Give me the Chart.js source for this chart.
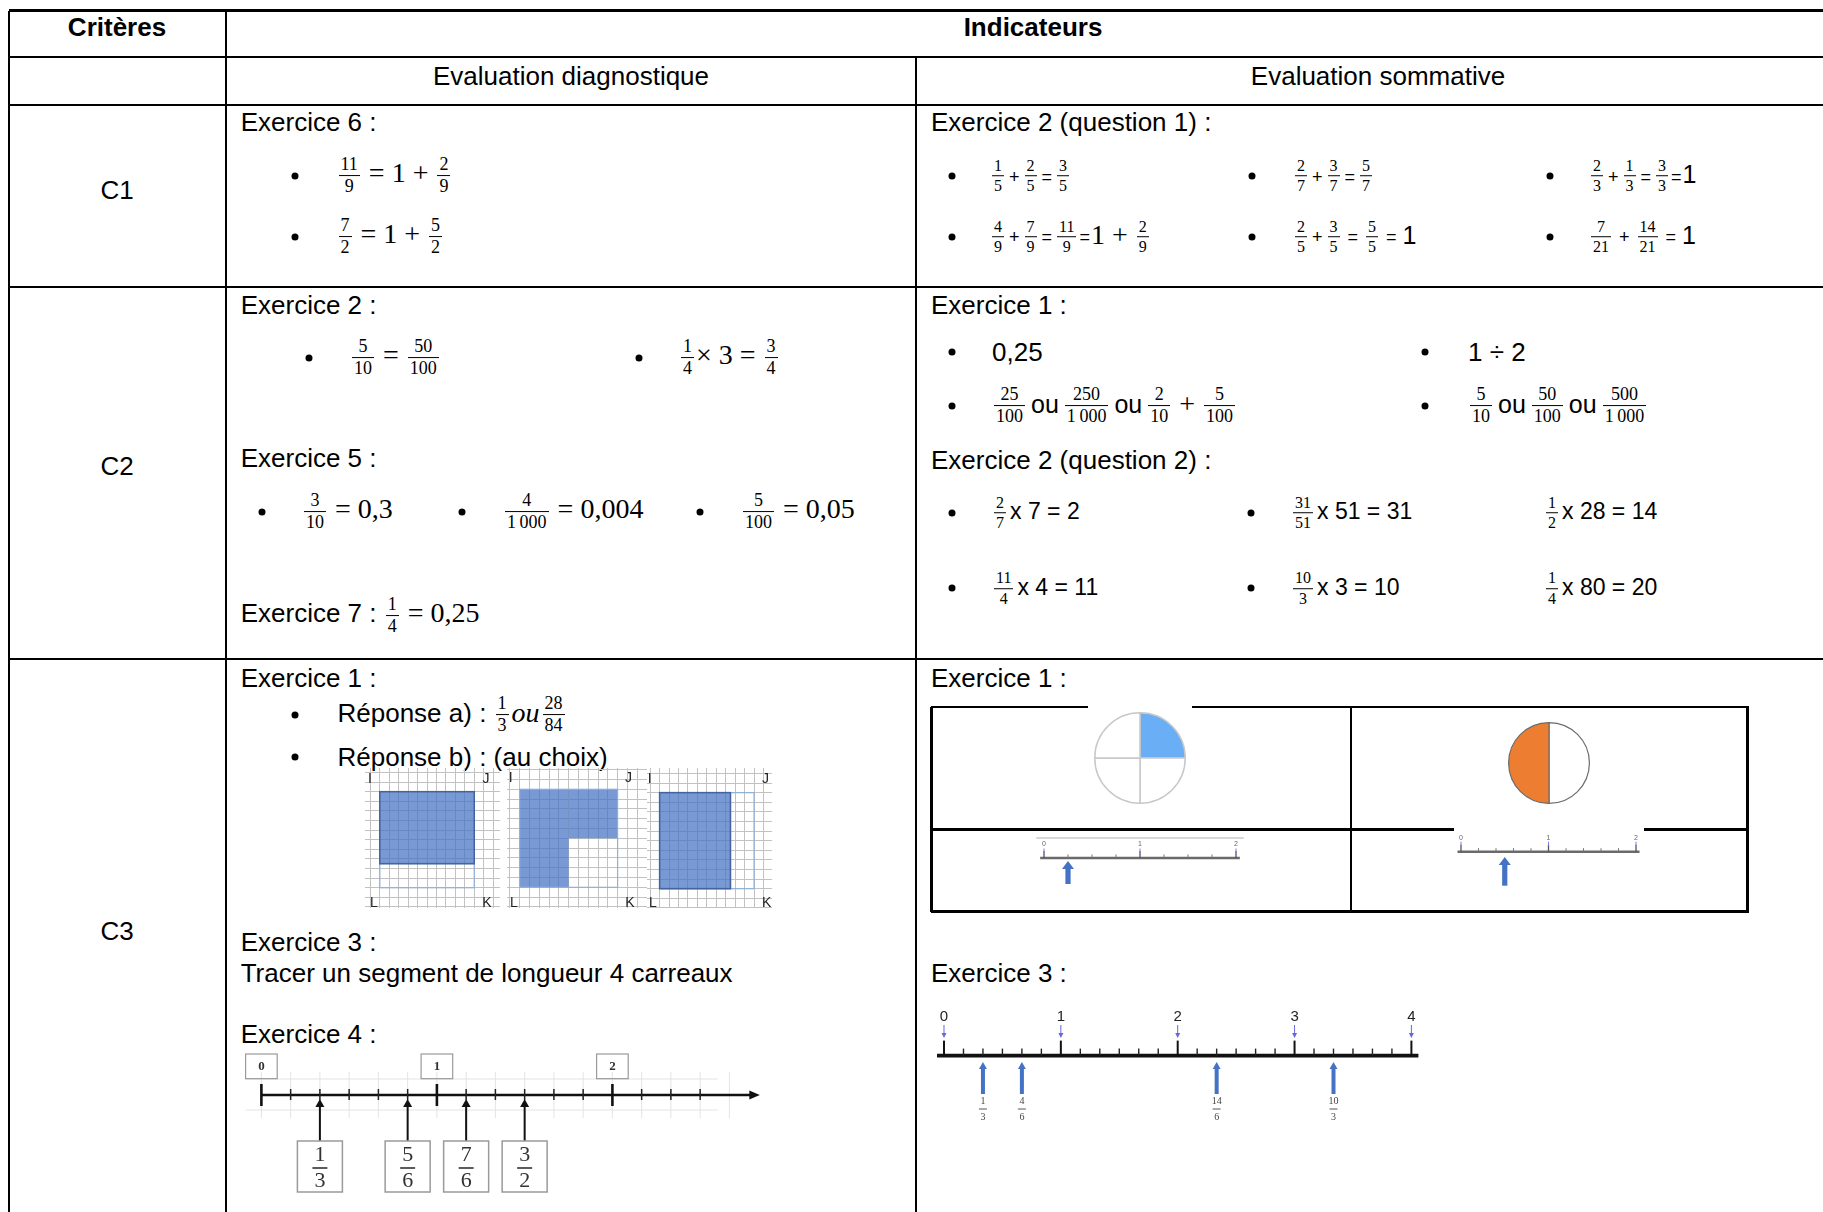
<!DOCTYPE html>
<html lang="fr">
<head>
<meta charset="utf-8">
<title>Critères / Indicateurs</title>
<script src="https://cdn.jsdelivr.net/npm/chart.js@4.4.1/dist/chart.umd.min.js"></script>
<style>
html,body{margin:0;padding:0;width:1823px;height:1212px;overflow:hidden;background:#fff;}
#page{position:relative;width:1823px;height:1212px;overflow:hidden;font-family:"Liberation Sans",Arial,sans-serif;color:#000;}
.ln{position:absolute;background:#000;}
.t{position:absolute;white-space:nowrap;font-size:26px;line-height:30px;transform:translateY(-50%);}
.tc{transform:translate(-50%,-50%);}
.b{font-weight:bold;}
.dot{position:absolute;width:7px;height:7px;border-radius:50%;background:#000;transform:translate(-50%,-50%);}
.m{font-family:"Liberation Serif","DejaVu Serif",serif;font-size:28px;}
.fr{display:inline-flex;flex-direction:column;align-items:center;vertical-align:middle;font-family:"Liberation Serif","DejaVu Serif",serif;line-height:1.08;margin:0 2px;font-style:normal;}
.fr>.n{border-bottom:1.2px solid #000;padding:0 2px 1px;align-self:stretch;text-align:center;}
.fr>.d{padding:1px 2px 0;}
.op{font-size:18px;margin:0 3px;}
.opw{font-size:18px;margin:0 6px;}
.big{font-size:25px;}
.s26{font-size:26px;}
.ou{font-size:25px;margin:0 4px;}
.x23{font-size:23px;margin-left:2px;}
.lab{position:absolute;font-size:14px;line-height:14px;color:#222;transform:translate(-50%,-50%);}
.chart{position:absolute;}
.chart canvas{display:block;}
</style>
</head>
<body>
<div id="page"></div>
<script>
// ---------------- data ----------------
// Exercice 1 (évaluation sommative) : disques
const pieQuarterValues = [1, 1, 1, 1];
const pieQuarterColors = ['#6AAEF5', '#FFFFFF', '#FFFFFF', '#FFFFFF'];
const pieHalfValues = [1, 1];
const pieHalfColors = ['#FFFFFF', '#ED7D31'];

// Exercice 1 (évaluation sommative) : petites droites graduées
const smallLineAMajors = [0, 1, 2];
const smallLineADivisions = 4;
const smallLineAArrows = [0.25];
const smallLineBMajors = [0, 1, 2];
const smallLineBDivisions = 5;
const smallLineBArrows = [0.5];

// Exercice 3 (évaluation sommative) : droite graduée 0..4
const ex3Majors = [0, 1, 2, 3, 4];
const ex3MajorLabels = ['0', '1', '2', '3', '4'];
const ex3Divisions = 6;
const ex3ArrowValues = [1/3, 4/6, 14/6, 10/3];
const ex3ArrowNums = ['1', '4', '14', '10'];
const ex3ArrowDens = ['3', '6', '6', '3'];

// Exercice 4 (évaluation diagnostique) : droite graduée
const ex4Majors = [0, 1, 2];
const ex4MajorLabels = ['0', '1', '2'];
const ex4Divisions = 6;
const ex4LastTick = 2.5;
const ex4ArrowValues = [1/3, 5/6, 7/6, 3/2];
const ex4ArrowNums = ['1', '5', '7', '3'];
const ex4ArrowDens = ['3', '6', '6', '2'];

// Exercice 1 (évaluation diagnostique) : quadrillages IJKL (x0, y0, x1, y1 en carreaux)
const gridOutline = [0, 0, 10, 10];
const grid1Shapes = [[0, 2.5, 10, 10]];
const grid2Shapes = [[0, 0, 5, 10], [5, 5, 10, 10]];
const grid3Shapes = [[0, 0, 7.5, 10]];

// ---------------- helpers ----------------
const page = document.getElementById('page');
function el(cls, css, html) {
  const d = document.createElement('div');
  d.className = cls; d.style.cssText = css;
  if (html !== undefined) d.innerHTML = html;
  page.appendChild(d); return d;
}
function T(x, cy, html, cls) { return el('t ' + (cls || ''), `left:${x}px;top:${cy}px;`, html); }
function TC(x, cy, html, cls) { return el('t tc ' + (cls || ''), `left:${x}px;top:${cy}px;`, html); }
function dot(x, cy) { el('dot', `left:${x}px;top:${cy}px;`); }
function hline(x1, x2, y, w) { el('ln', `left:${x1}px;top:${y - w / 2}px;width:${x2 - x1}px;height:${w}px;`); }
function vline(x, y1, y2, w) { el('ln', `left:${x - w / 2}px;top:${y1}px;width:${w}px;height:${y2 - y1}px;`); }
function lab(x, cy, txt) { el('lab', `left:${x}px;top:${cy}px;`, txt); }
const F = (n, d, s) => `<span class="fr" style="font-size:${s || 18}px"><span class="n">${n}</span><span class="d">${d}</span></span>`;
const M = h => `<span class="m">${h}</span>`;
const P = '<span class="op">+</span>', E = '<span class="op">=</span>';
const PW = '<span class="opw">+</span>', EW = '<span class="opw">=</span>';
const OU = '<span class="ou">ou</span>';
const TH = '1&#8239;000';

function holder(x, y, w, h, bg) {
  const d = el('chart', `left:${x}px;top:${y}px;width:${w}px;height:${h}px;${bg ? 'background:' + bg + ';' : ''}`);
  const c = document.createElement('canvas');
  c.width = w; c.height = h; c.style.width = w + 'px'; c.style.height = h + 'px';
  d.appendChild(c); return c;
}
const baseOpts = { responsive: false, animation: false, events: [], plugins: { legend: { display: false }, tooltip: { enabled: false } } };

function seg(ctx, x1, y1, x2, y2, w, c) { ctx.beginPath(); ctx.moveTo(x1, y1); ctx.lineTo(x2, y2); ctx.lineWidth = w; ctx.strokeStyle = c; ctx.stroke(); }
function tri(ctx, a, b, c, col) { ctx.beginPath(); ctx.moveTo(a[0], a[1]); ctx.lineTo(b[0], b[1]); ctx.lineTo(c[0], c[1]); ctx.closePath(); ctx.fillStyle = col; ctx.fill(); }
function minors(majors, div, last) {
  const out = [];
  majors.forEach(m => { for (let k = 1; k < div; k++) { const v = m + k / div; if (v <= last + 1e-9) out.push(v); } });
  return out;
}
function numberLineChart(canvas, xMin, xMax, drawFn) {
  return new Chart(canvas, {
    type: 'scatter',
    data: { datasets: [{ data: [] }] },
    options: Object.assign({}, baseOpts, {
      layout: { padding: 0 },
      scales: { x: { type: 'linear', display: false, min: xMin, max: xMax }, y: { type: 'linear', display: false, min: 0, max: 1 } }
    }),
    plugins: [{ id: 'numberLine', afterDraw(ch) { const ctx = ch.ctx; ctx.save(); drawFn(ctx, v => ch.scales.x.getPixelForValue(v), ch.chartArea.top); ctx.restore(); } }]
  });
}
function gridChart(canvas, xr, yr, shapes, darkEdge) {
  const ax = (mn, mx) => ({ type: 'linear', min: mn, max: mx, ticks: { display: false, stepSize: 1, includeBounds: false }, grid: { color: '#c2c2c2', lineWidth: 1, drawTicks: false }, border: { display: false } });
  return new Chart(canvas, {
    type: 'scatter',
    data: { datasets: [{ data: [] }] },
    options: Object.assign({}, baseOpts, { layout: { padding: 0 }, scales: { x: ax(xr[0], xr[1]), y: ax(yr[0], yr[1]) } }),
    plugins: [{ id: 'rects', afterDatasetsDraw(ch) {
      const X = v => ch.scales.x.getPixelForValue(v), Y = v => ch.scales.y.getPixelForValue(v), ctx = ch.ctx;
      ctx.save();
      shapes.forEach(s => { ctx.fillStyle = 'rgba(68,114,196,0.72)'; ctx.fillRect(X(s[0]), Y(s[3]), X(s[2]) - X(s[0]), Y(s[1]) - Y(s[3])); });
      const o = gridOutline;
      ctx.strokeStyle = '#8fb0dc'; ctx.lineWidth = 1.2;
      ctx.strokeRect(X(o[0]), Y(o[3]), X(o[2]) - X(o[0]), Y(o[1]) - Y(o[3]));
      if (darkEdge) shapes.forEach(s => { ctx.strokeStyle = '#42649f'; ctx.lineWidth = 1.6; ctx.strokeRect(X(s[0]), Y(s[3]), X(s[2]) - X(s[0]), Y(s[1]) - Y(s[3])); });
      ctx.restore();
    } }]
  });
}

// ---------------- table frame ----------------
const xL = 9.3, xC1 = 225.5, xC2 = 916, xR = 1840;
const yT = 10.5, yH1 = 57, yH2 = 104.6, yR1 = 287, yR2 = 659, yB = 1216;
hline(xL, xR, yT, 2.6); hline(xL, xR, yH1, 2); hline(xL, xR, yH2, 2); hline(xL, xR, yR1, 2.2); hline(xL, xR, yR2, 2.2); hline(xL, xR, yB, 2);
vline(xL, yT, yB, 2); vline(xC1, yT, yB, 2); vline(xC2, yH1, yB, 2);

// headers
TC(117, 27, 'Critères', 'b');
TC(1033, 27, 'Indicateurs', 'b');
TC(571, 76, 'Evaluation diagnostique');
TC(1378, 76, 'Evaluation sommative');
TC(117, 190, 'C1'); TC(117, 466, 'C2'); TC(117, 931, 'C3');

// ---------------- C1 ----------------
T(240.7, 122, 'Exercice 6 :');
dot(295, 176); T(336.5, 176, M(`${F(11, 9)} = 1 + ${F(2, 9)}`));
dot(295, 236.5); T(336.5, 236.5, M(`${F(7, 2)} = 1 + ${F(5, 2)}`));

T(931, 122, 'Exercice 2 (question 1) :');
dot(951.5, 176);  T(990, 176, `${F(1, 5, 16)}${P}${F(2, 5, 16)}${E}${F(3, 5, 16)}`);
dot(1252, 176); T(1293, 176, `${F(2, 7, 16)}${P}${F(3, 7, 16)}${E}${F(5, 7, 16)}`);
dot(1550, 176); T(1589, 176, `${F(2, 3, 16)}${P}${F(1, 3, 16)}${E}${F(3, 3, 16)}<span class="op" style="margin:0 1px">=</span><span class="big">1</span>`);
dot(951.5, 236.5);  T(990, 236.5, `${F(4, 9, 16)}${P}${F(7, 9, 16)}${E}${F(11, 9, 16)}<span class="op" style="margin:0 1px">=</span>${M('1 + ')}${F(2, 9, 16)}`);
dot(1252, 236.5); T(1293, 236.5, `${F(2, 5, 16)}${P}${F(3, 5, 16)}${EW}${F(5, 5, 16)}${EW}<span class="big">1</span>`);
dot(1550, 236.5); T(1589, 236.5, `${F(7, 21, 16)}${PW}${F(14, 21, 16)}${EW}<span class="big">1</span>`);

// ---------------- C2 ----------------
T(240.7, 304.6, 'Exercice 2 :');
dot(309, 358); T(350, 358, M(`${F(5, 10)} = ${F(50, 100)}`));
dot(639, 358); T(679, 358, M(`${F(1, 4)}× 3 = ${F(3, 4)}`));
T(240.7, 458, 'Exercice 5 :');
dot(261.5, 511.5); T(302, 511.5, M(`${F(3, 10)} = 0,3`));
dot(462, 511.5);   T(503, 511.5, M(`${F(4, TH)} = 0,004`));
dot(700, 511.5);   T(741, 511.5, M(`${F(5, 100)} = 0,05`));
T(240.7, 616, 'Exercice 7 : ' + M(`${F(1, 4)} = 0,25`));

T(931, 304.6, 'Exercice 1 :');
dot(951.5, 352.3);  T(992, 352.3, '<span class="s26">0,25</span>');
dot(1424.5, 352.3); T(1468, 352.3, '<span class="s26">1 ÷ 2</span>');
dot(951.5, 405.7);  T(992, 405.7, `${F(25, 100)}${OU}${F(250, TH)}${OU}${F(2, 10)}${M(' + ')}${F(5, 100)}`);
dot(1424.5, 405.7); T(1468, 405.7, `${F(5, 10)}${OU}${F(50, 100)}${OU}${F(500, TH)}`);
T(931, 460.4, 'Exercice 2 (question 2) :');
dot(951.5, 512.7); T(992, 512.7, `${F(2, 7, 16)}<span class="x23">x 7 = 2</span>`);
dot(1251, 512.7);  T(1291, 512.7, `${F(31, 51, 16)}<span class="x23">x 51 = 31</span>`);
T(1544, 512.7, `${F(1, 2, 16)}<span class="x23">x 28 = 14</span>`);
dot(951.5, 588.3); T(992, 588.3, `${F(11, 4, 16)}<span class="x23">x 4 = 11</span>`);
dot(1251, 588.3);  T(1291, 588.3, `${F(10, 3, 16)}<span class="x23">x 3 = 10</span>`);
T(1544, 588.3, `${F(1, 4, 16)}<span class="x23">x 80 = 20</span>`);

// ---------------- C3 diagnostique ----------------
T(240.7, 677.5, 'Exercice 1 :');
dot(295, 715);   T(337.5, 715, `Réponse a) : ${F(1, 3)}<i class="m" style="font-size:28px;margin:0 1px">ou</i>${F(28, 84)}`);
dot(295, 756.5); T(337.5, 756.5, 'Réponse b) : (au choix)');

gridChart(holder(365, 768, 135, 140), [-1.57, 12.73], [-2.11, 12.47], grid1Shapes, true);
gridChart(holder(507, 768, 140, 140), [-1.29, 13.0], [-2.11, 12.17], grid2Shapes, false);
gridChart(holder(647, 768, 125, 140), [-1.34, 11.9], [-2.01, 12.57], grid3Shapes, true);
lab(370, 778, 'I'); lab(486, 778, 'J'); lab(374, 902, 'L'); lab(487, 902, 'K');
lab(510.6, 777, 'I'); lab(628.5, 777, 'J'); lab(514, 902, 'L'); lab(630, 902, 'K');
lab(649.7, 778, 'I'); lab(765.6, 778, 'J'); lab(653, 902, 'L'); lab(766.6, 902, 'K');

T(240.7, 941.5, 'Exercice 3 :');
T(240.7, 973, 'Tracer un segment de longueur 4 carreaux');
T(240.7, 1034, 'Exercice 4 :');

// Exercice 4 number line
numberLineChart(holder(240, 1045, 530, 160), -0.1219, 2.898, (ctx, X, top) => {
  const ay = top + 50;
  for (let k = 0; k <= 16; k++) seg(ctx, X(k / 6), top + 27, X(k / 6), top + 73, 1, '#e3e3e3');
  seg(ctx, X(-0.09), top + 34, X(2.6), top + 34, 1, '#e3e3e3');
  seg(ctx, X(-0.09), top + 65, X(2.6), top + 65, 1, '#e3e3e3');
  seg(ctx, X(ex4Majors[0]), ay, X(2.79), ay, 2.5, '#111');
  tri(ctx, [X(2.84), ay], [X(2.78), ay - 4.5], [X(2.78), ay + 4.5], '#111');
  minors(ex4Majors, ex4Divisions, ex4LastTick).forEach(v => seg(ctx, X(v), ay - 6, X(v), ay + 5, 1.5, '#222'));
  ex4Majors.forEach((v, i) => {
    seg(ctx, X(v), ay - 11, X(v), ay + 11, 2.6, '#111');
    ctx.strokeStyle = '#9a9a9a'; ctx.lineWidth = 1.2;
    ctx.strokeRect(X(v) - 15.8, top + 9, 31.6, 24.7);
    ctx.fillStyle = '#333'; ctx.font = 'bold 13px "Liberation Serif", serif'; ctx.textAlign = 'center'; ctx.textBaseline = 'middle';
    ctx.fillText(ex4MajorLabels[i], X(v), top + 21.5);
  });
  ex4ArrowValues.forEach((v, i) => {
    const x = X(v);
    seg(ctx, x, top + 60, x, top + 96, 2, '#111');
    tri(ctx, [x, top + 54], [x - 4.5, top + 62], [x + 4.5, top + 62], '#111');
    ctx.strokeStyle = '#9a9a9a'; ctx.lineWidth = 1.5;
    ctx.strokeRect(x - 22.5, top + 96, 45, 51);
    ctx.fillStyle = '#333'; ctx.font = '22px "Liberation Serif", serif'; ctx.textAlign = 'center'; ctx.textBaseline = 'middle';
    ctx.fillText(ex4ArrowNums[i], x, top + 110);
    seg(ctx, x - 7.5, top + 123, x + 7.5, top + 123, 1.6, '#333');
    ctx.fillText(ex4ArrowDens[i], x, top + 136);
  });
});

// ---------------- C3 sommative ----------------
T(931, 677.5, 'Exercice 1 :');
hline(931, 1748.5, 707, 2.6); hline(931, 1748.5, 829.5, 2.6); hline(931, 1748.5, 911.5, 2.8);
vline(931.5, 707, 911.5, 2.6); vline(1351, 707, 911.5, 2); vline(1747.5, 707, 911.5, 2.6);

new Chart(holder(1088, 705, 104, 106, '#fff'), {
  type: 'pie',
  data: { labels: ['1', '2', '3', '4'], datasets: [{ data: pieQuarterValues, backgroundColor: pieQuarterColors, borderColor: '#c8c8c8', borderWidth: 1.5 }] },
  options: Object.assign({}, baseOpts, { layout: { padding: { left: 6, right: 6, top: 7, bottom: 7 } } })
});
new Chart(holder(1508, 722, 82, 82), {
  type: 'pie',
  data: { labels: ['1', '2'], datasets: [{ data: pieHalfValues, backgroundColor: pieHalfColors, borderColor: '#6b6b6b', borderWidth: 1.2 }] },
  options: Object.assign({}, baseOpts, { layout: { padding: 0 } })
});

function smallLine(ctx, X, top, majors, div, arrows, o) {
  if (o.topLine !== undefined) seg(ctx, X(-0.08), top + o.topLine, X(2.08), top + o.topLine, 1, '#b0b0b0');
  const ay = top + o.axis;
  seg(ctx, X(-0.04), ay, X(majors[majors.length - 1] + 0.04), ay, 2.4, '#6a6a6a');
  minors(majors, div, majors[majors.length - 1]).forEach(v => seg(ctx, X(v), ay - 3.5, X(v), ay, 1, '#777'));
  ctx.font = '7px "Liberation Sans", sans-serif'; ctx.textAlign = 'center'; ctx.textBaseline = 'middle';
  majors.forEach(v => {
    seg(ctx, X(v), ay - 7, X(v), ay, 1.3, '#555');
    ctx.fillStyle = '#666'; ctx.fillText(String(v), X(v), top + o.label);
    seg(ctx, X(v), top + o.label + 4, X(v), top + o.label + 8, 1, '#7b7bf0');
  });
  arrows.forEach(v => {
    const x = X(v);
    ctx.fillStyle = '#4472C4';
    ctx.fillRect(x - 2.6, top + o.tip + 7, 5.2, o.end - o.tip - 7);
    tri(ctx, [x, top + o.tip], [x - 6, top + o.tip + 8], [x + 6, top + o.tip + 8], '#4472C4');
  });
}
numberLineChart(holder(1034, 834, 214, 56), -0.1042, 2.125, (ctx, X, top) =>
  smallLine(ctx, X, top, smallLineAMajors, smallLineADivisions, smallLineAArrows, { topLine: 4, axis: 24, label: 10.5, tip: 27, end: 50 }));
numberLineChart(holder(1454, 826, 190, 66, '#fff'), -0.08, 2.0914, (ctx, X, top) =>
  smallLine(ctx, X, top, smallLineBMajors, smallLineBDivisions, smallLineBArrows, { axis: 25.7, label: 11.7, tip: 31, end: 59.7 }));

T(931, 973, 'Exercice 3 :');

numberLineChart(holder(930, 1005, 495, 135), -0.1198, 4.1164, (ctx, X, top) => {
  const ay = top + 50.6;
  seg(ctx, X(-0.06), ay, X(4.06), ay, 3.6, '#111');
  minors(ex3Majors, ex3Divisions, ex3Majors[ex3Majors.length - 1]).forEach(v => seg(ctx, X(v), ay - 7, X(v), ay, 1.4, '#222'));
  ctx.textAlign = 'center'; ctx.textBaseline = 'middle';
  ex3Majors.forEach((v, i) => {
    seg(ctx, X(v), ay - 15, X(v), ay, 2, '#111');
    ctx.fillStyle = '#222'; ctx.font = '15px "Liberation Sans", sans-serif';
    ctx.fillText(ex3MajorLabels[i], X(v), top + 12);
    seg(ctx, X(v), top + 20, X(v), top + 30, 1, '#6666dd');
    tri(ctx, [X(v), top + 33], [X(v) - 2.5, top + 28], [X(v) + 2.5, top + 28], '#6666dd');
  });
  ex3ArrowValues.forEach((v, i) => {
    const x = X(v);
    ctx.fillStyle = '#4472C4';
    ctx.fillRect(x - 2, top + 62, 4, 27);
    tri(ctx, [x, top + 57], [x - 4, top + 64], [x + 4, top + 64], '#4472C4');
    ctx.fillStyle = '#444'; ctx.font = '10px "Liberation Serif", serif';
    ctx.fillText(ex3ArrowNums[i], x, top + 96);
    seg(ctx, x - 4, top + 104, x + 4, top + 104, 1, '#555');
    ctx.fillText(ex3ArrowDens[i], x, top + 112);
  });
});
</script>
</body>
</html>
